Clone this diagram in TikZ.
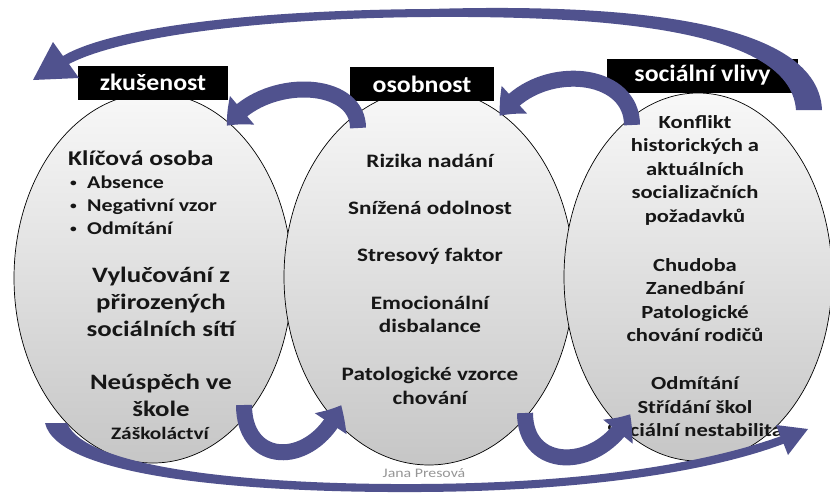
\documentclass[tikz,border=0pt]{standalone}
\usepackage{fontspec}
\setmainfont{Carlito}[FakeStretch=1.22]
\newfontfamily\labelfont{Carlito}[FakeStretch=1.1]
\usetikzlibrary{arrows.meta,bending,shapes.geometric}
\definecolor{arrowblue}{RGB}{80,82,142}
\definecolor{elltop}{RGB}{248,248,248}
\definecolor{ellbot}{RGB}{198,198,198}
\definecolor{txt}{RGB}{22,22,22}
\definecolor{credit}{RGB}{150,150,150}
\tikzset{
  oval/.style={ellipse, draw=black, line width=0.7pt, top color=elltop, bottom color=ellbot, inner sep=0pt},
  tag/.style={fill=black, text=white, font=\labelfont\bfseries\fontsize{23.5}{26}\selectfont, inner sep=0pt, minimum height=34pt},
  body/.style={text=txt, font=\bfseries\fontsize{19}{23.5}\selectfont, align=center, inner sep=0pt},
  rbody/.style={text=txt, font=\bfseries\fontsize{18.5}{23.5}\selectfont, align=center, inner sep=0pt},
  lbig/.style={text=txt, font=\bfseries\fontsize{22}{27}\selectfont, align=center, inner sep=0pt},
  lhead/.style={text=txt, font=\bfseries\fontsize{21}{25}\selectfont, inner sep=0pt},
  lbul/.style={text=txt, font=\bfseries\fontsize{18}{23}\selectfont, align=left, inner sep=0pt},
  lsmall/.style={text=txt, font=\bfseries\fontsize{17.5}{21}\selectfont, inner sep=0pt},
  creditstyle/.style={text=credit, font=\fontsize{13}{15}\selectfont, inner sep=0pt},
  loop/.style={draw=arrowblue, line width=16pt, -{Triangle[width=36pt,length=22pt,bend]}},
  ribbon/.style={fill=arrowblue}
}
\newcommand{\bulitem}[1]{\makebox[17pt][l]{\raisebox{1.5pt}{\fontsize{11}{11}\selectfont\textbullet}}#1}
\begin{document}
\begin{tikzpicture}[x=1pt,y=-1pt]
\useasboundingbox (0,0) rectangle (830,496);
\fill[white] (0,0) rectangle (830,496);

% ovals
\node[oval, minimum width=278pt, minimum height=370pt] (zk) at (153,278) {};
\node[oval, minimum width=290pt, minimum height=376pt] (os) at (429,277) {};
\node[oval, minimum width=268pt, minimum height=368pt] (sv) at (698,277) {};

% header tags
\node[tag, minimum width=150pt] (zkt) at (153,82.5) {zkušenost};
\node[tag, minimum width=144pt] (ost) at (422,84) {osobnost};
\node[tag, minimum width=191pt] (svt) at (702.5,75.5) {sociální vlivy};

% left texts
\node[lhead, anchor=west] (klic) at (68,158) {Klíčová osoba};
\node[lbul, anchor=west] (bul) at (70,205) {\bulitem{Absence}\\\bulitem{Negativní vzor}\\\bulitem{Odmítání}};
\node[lbig] (vyl) at (161,302) {Vylučování z\\přirozených\\sociálních sítí};
\node[lbig] (neu) at (161,395) {Neúspěch ve\\škole};
\node[lsmall] (zas) at (160,433) {Záškoláctví};

% middle texts
\node[body] (m1) at (430,161) {Rizika nadání};
\node[body] (m2) at (430,208) {Snížená odolnost};
\node[body] (m3) at (430,256) {Stresový faktor};
\node[body] (m4) at (430,314.5) {Emocionální\\disbalance};
\node[body] (m5) at (430,386) {Patologické vzorce\\chování};

% right texts
\node[rbody] (r1) at (695,170) {Konflikt\\historických a\\aktuálních\\socializačních\\požadavků};
\node[rbody] (r2) at (695,300) {Chudoba\\Zanedbání\\Patologické\\chování rodičů};
\node[rbody] (r3) at (695,407) {Odmítání\\Střídání škol\\Sociální nestabilita};

\node[creditstyle] (jp) at (424,473) {Jana Presová};

% arrows
\coordinate (aTip) at (33,80);
\fill[ribbon] (822,110) .. controls (818,14) and (600,4) .. (430,9)
   .. controls (250,10) and (110,28) .. (63,56) -- (53,42) -- (aTip) -- (79,78) -- (69,64)
   .. controls (120,37) and (260,18) .. (430,17)
   .. controls (590,16) and (790,26) .. (796,110) -- cycle;

\coordinate (fTip) at (808,429);
\fill[ribbon] (45,423) .. controls (58,478) and (250,493) .. (420,492)
   .. controls (600,491) and (720,468) .. (783.6,443.7) -- (788,455) -- (fTip) -- (776,425) -- (780.4,436.3)
   .. controls (715,460) and (600,483) .. (420,484)
   .. controls (250,485) and (85,468) .. (67,423) -- cycle;

\coordinate (bTail) at (358,128);
\coordinate (bTip) at (227,126);
\draw[loop] (bTail) .. controls (358,78) and (262,76) .. (bTip);

\coordinate (cTail) at (632,125);
\coordinate (cTip) at (500,116);
\draw[loop] (cTail) .. controls (632,68) and (535,62) .. (cTip);

\coordinate (dTail) at (244,405);
\coordinate (dTip) at (341,405);
\draw[loop] (dTail) .. controls (244,468) and (315,468) .. (dTip);

\coordinate (eTail) at (525,413);
\coordinate (eTip) at (630,414);
\draw[loop] (eTail) .. controls (525,472) and (600,472) .. (eTip);
\end{tikzpicture}
\end{document}
